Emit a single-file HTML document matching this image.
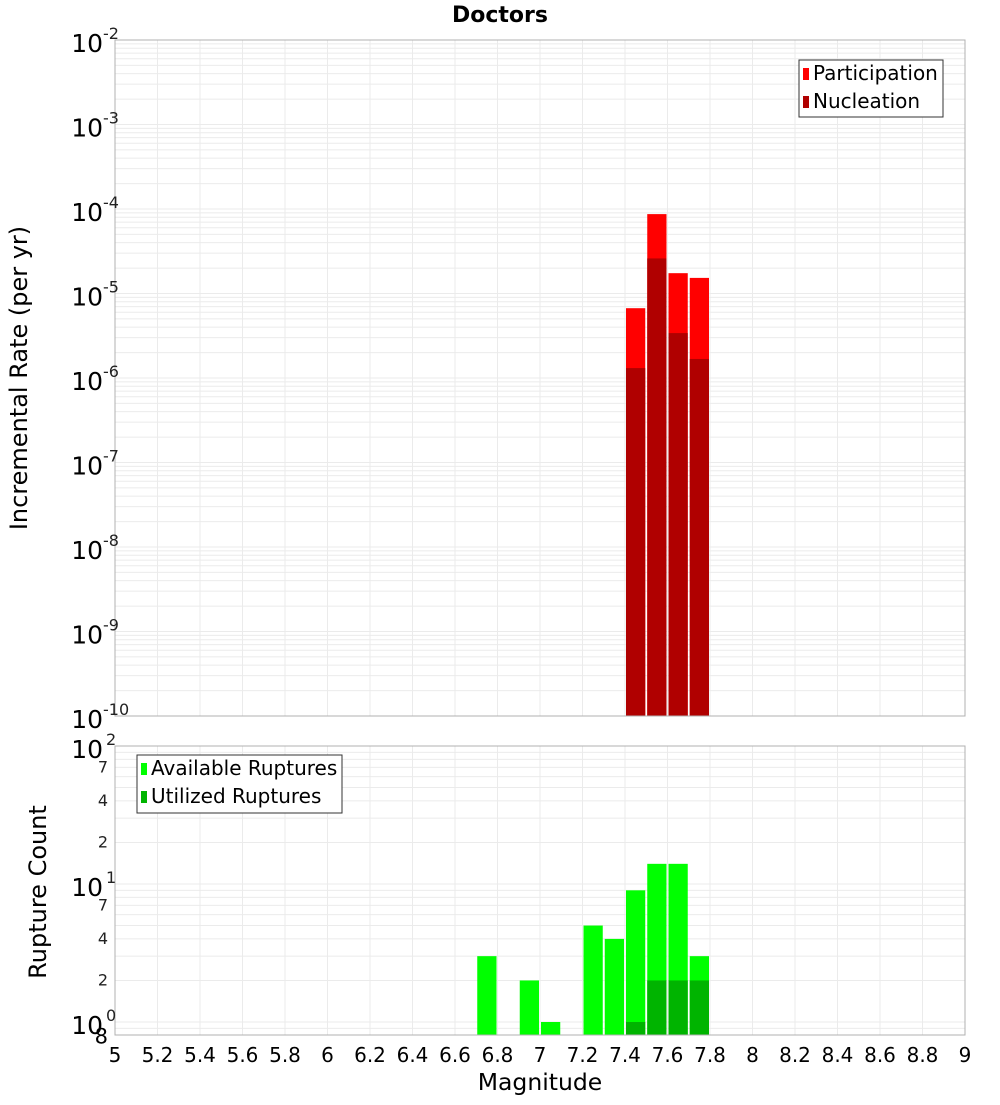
<!DOCTYPE html>
<html><head><meta charset="utf-8"><style>
body{margin:0;background:#fff}
svg{font-family:"DejaVu Sans","Liberation Sans",sans-serif}
</style></head><body>
<svg id="c" width="1000" height="1100" xmlns="http://www.w3.org/2000/svg"></svg>
<script>
const mags=[7.45,7.55,7.65,7.75];
const participation=[6.7e-6,8.7e-5,1.74e-5,1.53e-5];
const nucleation=[1.31e-6,2.6e-5,3.4e-6,1.68e-6];
const countMags=[6.75,6.95,7.05,7.25,7.35,7.45,7.55,7.65,7.75];
const available=[3,2,1,5,4,9,14,14,3];
const utilMags=[7.45,7.55,7.65,7.75];
const utilized=[1,2,2,2];
const xTicks=[5,5.2,5.4,5.6,5.8,6,6.2,6.4,6.6,6.8,7,7.2,7.4,7.6,7.8,8,8.2,8.4,8.6,8.8,9];
const topExp=[-2,-3,-4,-5,-6,-7,-8,-9,-10];
const botMinor=[2,4,7,20,40,70];

const S="http://www.w3.org/2000/svg",svg=document.getElementById('c');
function el(t,a,txt){const e=document.createElementNS(S,t);for(const k in a)e.setAttribute(k,a[k]);if(txt!==undefined)e.textContent=txt;svg.appendChild(e);return e;}
const L=115,R=965;
const x=m=>L+(m-5)/4*(R-L);
const T1=40,B1=716;const y1=v=>T1+(-2-Math.log10(v))/8*(B1-T1);
const T2=746,D2=138;const y2=v=>T2+(2-Math.log10(v))*D2;const B2=1035;

function grid(top,bot,yf,lo,hi){
  for(let d=lo;d<hi;d++)for(let k=1;k<10;k++){const yy=yf(k*Math.pow(10,d));if(yy>=top&&yy<=bot){const g=el('line',{x1:L,x2:R,y1:yy,y2:yy,stroke:'#ebebeb','stroke-width':1});}}
  xTicks.forEach(t=>{const g=el('line',{x1:x(t),x2:x(t),y1:top,y2:bot,stroke:'#ebebeb'});});
}
grid(T1,B1,y1,-10,-2);grid(T2,B2,y2,-1,2);

mags.forEach((m,i)=>{
  const a=el('rect',{x:x(m-0.05)+1,width:x(m+0.05)-x(m-0.05)-2,y:y1(participation[i]),height:B1-y1(participation[i]),fill:'#ff0000'});
  
  const b=el('rect',{x:x(m-0.05)+1,width:x(m+0.05)-x(m-0.05)-2,y:y1(nucleation[i]),height:B1-y1(nucleation[i]),fill:'#b00000'});
  
});
countMags.forEach((m,i)=>{
  const a=el('rect',{x:x(m-0.05)+1,width:x(m+0.05)-x(m-0.05)-2,y:y2(available[i]),height:B2-y2(available[i]),fill:'#00ff00'});
  
});
utilMags.forEach((m,i)=>{
  const a=el('rect',{x:x(m-0.05)+1,width:x(m+0.05)-x(m-0.05)-2,y:y2(utilized[i]),height:B2-y2(utilized[i]),fill:'#00b400'});
  
});

let f=el('rect',{x:L,y:T1,width:R-L,height:B1-T1,fill:'none',stroke:'#b0b0b0'});
f=el('rect',{x:L,y:T2,width:R-L,height:B2-T2,fill:'none',stroke:'#b0b0b0'});

topExp.forEach(e=>{const yy=y1(Math.pow(10,e));
  const t=el('text',{x:103,y:yy+12,'text-anchor':'end','font-size':25},'10');
  const s=el('text',{x:103,y:yy-1,'font-size':16,fill:'#222'},String(e));
});
[[2,'2'],[1,'1'],[0,'0']].forEach(([e,s0])=>{const yy=y2(Math.pow(10,e));
  const t=el('text',{x:103,y:yy+12,'text-anchor':'end','font-size':25},'10');
  const s=el('text',{x:106,y:yy-1,'font-size':16,fill:'#222'},s0);
});
botMinor.forEach(v=>{const t=el('text',{x:108,y:y2(v)+5,'text-anchor':'end','font-size':16,fill:'#222'},String(v>=10?v/10:v));});
let t8=el('text',{x:108,y:y2(0.8)+8,'text-anchor':'end','font-size':21},'8');

xTicks.forEach(v=>{const t=el('text',{x:x(v),y:1062,'text-anchor':'middle','font-size':20},String(v));});

let tt=el('text',{x:500,y:22,'text-anchor':'middle','font-size':22,'font-weight':'bold'},'Doctors');
tt=el('text',{x:540,y:1090,'text-anchor':'middle','font-size':23.5},'Magnitude');
tt=el('text',{x:0,y:0,'text-anchor':'middle','font-size':24,transform:'translate(27,378) rotate(-90)'},'Incremental Rate (per yr)');
tt=el('text',{x:0,y:0,'text-anchor':'middle','font-size':24,transform:'translate(46,892) rotate(-90)'},'Rupture Count');

function legend(x0,y0,w,h,items,name){
  const b=el('rect',{x:x0,y:y0,width:w,height:h,fill:'#fff',stroke:'#333'});
  items.forEach(([c,l],i)=>{const yy=y0+14+i*28;
    const s=el('rect',{x:x0+4,y:yy-6,width:6,height:12,fill:c});
    const t=el('text',{x:x0+14,y:yy+6,'font-size':20},l);});
}
legend(799,60,144,57,[['#ff0000','Participation'],['#b00000','Nucleation']],'top-legend');
legend(137,755,205,58,[['#00ff00','Available Ruptures'],['#00b400','Utilized Ruptures']],'bottom-legend');
</script>
</body></html>
